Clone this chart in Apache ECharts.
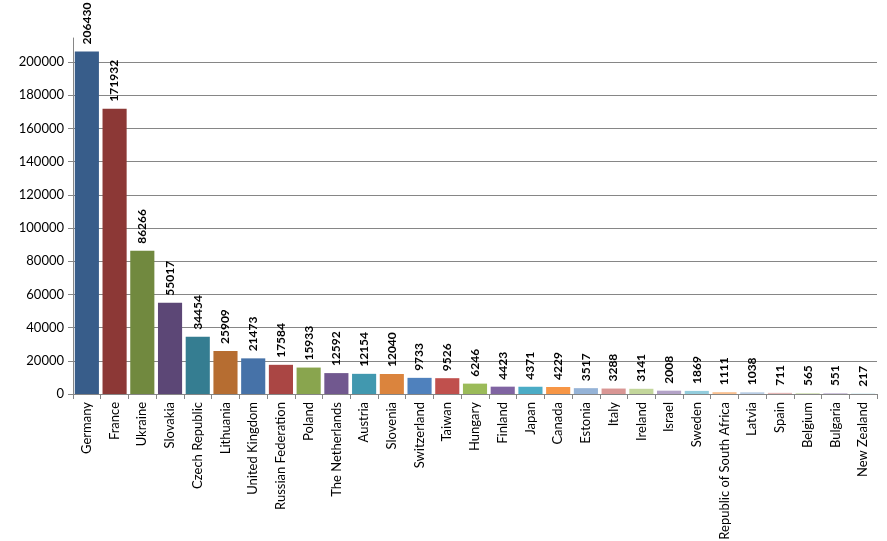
<!DOCTYPE html>
<html><head><meta charset="utf-8">
<script src="https://cdn.jsdelivr.net/npm/echarts@6/dist/echarts.min.js"></script>
<style>html,body{margin:0;padding:0;background:#fff}#c{width:887px;height:541px}</style>
</head><body><div id="c"></div>
<script>
var categories = ["Germany","France","Ukraine","Slovakia","Czech Republic","Lithuania","United Kingdom","Russian Federation","Poland","The Netherlands","Austria","Slovenia","Switzerland","Taiwan","Hungary","Finland","Japan","Canada","Estonia","Italy","Ireland","Israel","Sweden","Republic of South Africa","Latvia","Spain","Belgium","Bulgaria","New Zealand"];
var values = [206430,171932,86266,55017,34454,25909,21473,17584,15933,12592,12154,12040,9733,9526,6246,4423,4371,4229,3517,3288,3141,2008,1869,1111,1038,711,565,551,217];
var colors = ["#385D8A","#8C3836","#71893F","#5C4776","#357D91","#B66D31","#4672A8","#AA4644","#89A54E","#71588F","#4198AF","#DB843D","#4F81BD","#C0504D","#9BBB59","#8064A2","#4BACC6","#F79646","#95B3D7","#D99694","#C3D69B","#B3A2C7","#93CDDD","#FAC090","#B9CDE5","#E6B9B8","#D7E4BD","#CCC1DA","#B7DEE8"];
var yTicks = [0,20000,40000,60000,80000,100000,120000,140000,160000,180000,200000];

var chart = echarts.init(document.getElementById('c'));
var font = 'Lato, "Open Sans", sans-serif';
chart.setOption({
  animation:false,
  grid:{left:73,right:10,top:38,bottom:147,containLabel:false,outerBoundsMode:'none'},
  xAxis:{type:'category',data:categories,
    axisLine:{lineStyle:{color:'#868686',width:1}},
    axisTick:{show:true,length:5,alignWithLabel:false,lineStyle:{color:'#868686'}},
    axisLabel:{rotate:90,interval:0,color:'#000',fontSize:13,fontFamily:font,margin:8}
  },
  yAxis:{type:'value',min:0,max:214500,interval:20000,
    axisLine:{show:true,lineStyle:{color:'#868686',width:1}},
    axisTick:{show:true,length:5,lineStyle:{color:'#868686'}},
    axisLabel:{color:'#000',fontSize:13,fontFamily:font,margin:9,showMaxLabel:false,
      formatter:function(v){return yTicks.indexOf(v)>=0?String(v):'';}},
    splitLine:{show:true,showMaxLine:false,lineStyle:{color:'#868686',width:1}}
  },
  series:[{type:'bar',barCategoryGap:'13%',
    data:values.map(function(v,i){return {value:v,itemStyle:{color:colors[i]}};}),
    label:{show:true,position:'top',rotate:90,align:'left',verticalAlign:'middle',distance:7,
      color:'#000',fontWeight:'bold',fontSize:12,fontFamily:font}
  }]
});
</script></body></html>
